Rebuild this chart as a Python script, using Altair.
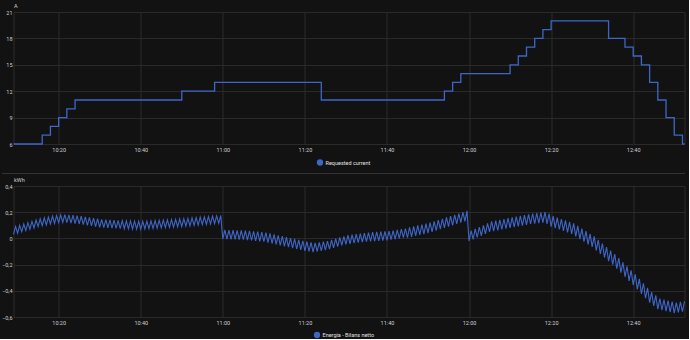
import altair as alt
import pandas as pd

DAY = "2024-05-14"
BG = "#121212"
GRID = "#2a2a2a"
BLUE = "#3e66c9"
TEXT = "#cfcfcf"
FONT = "Roboto"

# ---- x axis ticks ----
tick_times = ["10:20", "10:40", "11:00", "11:20", "11:40", "12:00", "12:20", "12:40"]
x_start = "10:09:00"
x_end = "12:52:30"

# ---- top panel: Requested current (A), step changes ----
current_series = "Requested current"
current_times = ["10:09", "10:16", "10:18", "10:20", "10:22", "10:24", "10:50", "10:58",
                 "11:24", "11:54", "11:56", "11:58", "12:10", "12:12", "12:14", "12:16",
                 "12:18", "12:20", "12:34", "12:38", "12:40", "12:42", "12:44", "12:46",
                 "12:48", "12:50", "12:52", "12:52:30"]
current_values = [6, 7, 8, 9, 10, 11, 12, 13,
                  11, 12, 13, 14, 15, 16, 17, 18,
                  19, 20, 18, 17, 16, 15, 13, 11,
                  9, 7, 6, 6]
current_ticks = [6, 9, 12, 15, 18, 21]

# ---- bottom panel: Energia - Bilans netto (kWh) ----
energy_series = "Energia - Bilans netto"
energy_first_minute = "10:09"
# low reading at each whole minute (10:09 ... 12:52)
energy_lo = [
    0.030, 0.040, 0.050, 0.060, 0.070, 0.080, 0.090, 0.097, 0.103, 0.110,
    0.115, 0.120, 0.122, 0.120, 0.117, 0.113, 0.110, 0.105, 0.100, 0.095,
    0.090, 0.085, 0.083, 0.081, 0.079, 0.077, 0.075, 0.074, 0.073, 0.072,
    0.071, 0.070, 0.072, 0.074, 0.076, 0.078, 0.080, 0.082, 0.084, 0.086,
    0.088, 0.090, 0.093, 0.096, 0.099, 0.102, 0.105, 0.107, 0.110, 0.112,
    0.115,
    -0.005, -0.006, -0.007, -0.008, -0.009, -0.010, -0.013, -0.016, -0.019, -0.022,
    -0.025, -0.032, -0.039, -0.046, -0.053, -0.060, -0.067, -0.074, -0.081, -0.088,
    -0.095, -0.100, -0.105, -0.100, -0.095, -0.090, -0.081, -0.072, -0.063, -0.054,
    -0.045, -0.041, -0.037, -0.033, -0.029, -0.025, -0.023, -0.021, -0.019, -0.017,
    -0.015, -0.010, -0.005, 0.000, 0.005, 0.005, 0.012, 0.019, 0.026, 0.033,
    0.040, 0.050, 0.060, 0.070, 0.080, 0.090, 0.100, 0.110, 0.120, 0.130,
    -0.020, -0.007, 0.007, 0.020, 0.035, 0.050, 0.056, 0.062, 0.068, 0.074,
    0.080, 0.086, 0.092, 0.098, 0.104, 0.110, 0.113, 0.117, 0.120, 0.110,
    0.090, 0.079, 0.068, 0.057, 0.046, 0.035, 0.015, -0.005, -0.025, -0.045,
    -0.065, -0.092, -0.119, -0.146, -0.173, -0.200, -0.231, -0.262, -0.293, -0.324,
    -0.355, -0.389, -0.423, -0.457, -0.490, -0.515, -0.540, -0.548, -0.555, -0.562,
    -0.570, -0.565, -0.560,
]
# high reading half a minute later
energy_hi = [
    0.090, 0.100, 0.110, 0.120, 0.130, 0.140, 0.150, 0.157, 0.163, 0.170,
    0.175, 0.180, 0.182, 0.180, 0.177, 0.173, 0.170, 0.165, 0.160, 0.155,
    0.150, 0.145, 0.143, 0.141, 0.139, 0.137, 0.135, 0.134, 0.133, 0.132,
    0.131, 0.130, 0.132, 0.134, 0.136, 0.138, 0.140, 0.142, 0.144, 0.146,
    0.148, 0.150, 0.153, 0.156, 0.159, 0.162, 0.165, 0.167, 0.170, 0.172,
    0.175,
    0.065, 0.064, 0.063, 0.062, 0.061, 0.060, 0.057, 0.054, 0.051, 0.048,
    0.045, 0.038, 0.031, 0.024, 0.017, 0.010, 0.003, -0.004, -0.011, -0.018,
    -0.025, -0.030, -0.035, -0.030, -0.025, -0.020, -0.011, -0.002, 0.007, 0.016,
    0.025, 0.029, 0.033, 0.037, 0.041, 0.045, 0.047, 0.049, 0.051, 0.053,
    0.055, 0.060, 0.065, 0.070, 0.075, 0.085, 0.092, 0.099, 0.106, 0.113,
    0.120, 0.130, 0.140, 0.150, 0.160, 0.170, 0.180, 0.190, 0.200, 0.210,
    0.060, 0.073, 0.087, 0.100, 0.115, 0.130, 0.136, 0.142, 0.148, 0.154,
    0.160, 0.166, 0.172, 0.178, 0.184, 0.190, 0.193, 0.197, 0.200, 0.190,
    0.170, 0.159, 0.148, 0.137, 0.126, 0.115, 0.095, 0.075, 0.055, 0.035,
    0.015, -0.012, -0.039, -0.066, -0.093, -0.120, -0.151, -0.182, -0.213, -0.244,
    -0.275, -0.309, -0.343, -0.377, -0.410, -0.435, -0.460, -0.468, -0.475, -0.482,
    -0.490, -0.485, -0.480,
]
energy_ticks = [-0.6, -0.4, -0.2, 0, 0.2, 0.4]


def ts(hm):
    return pd.Timestamp(f"{DAY} {hm}")


def dt(hm):
    t = ts(hm)
    return alt.DateTime(year=t.year, month=t.month, date=t.day,
                        hours=t.hour, minutes=t.minute, seconds=t.second)


# tables
cur_df = pd.DataFrame({
    "time": [ts(t).strftime("%Y-%m-%dT%H:%M:%S") for t in current_times],
    "value": current_values,
    "series": current_series,
})

minutes = pd.date_range(ts(energy_first_minute), periods=len(energy_lo), freq="1min")
rows = []
for m, lo, hi in zip(minutes, energy_lo, energy_hi):
    rows.append({"time": m.strftime("%Y-%m-%dT%H:%M:%S"), "value": lo})
    rows.append({"time": (m + pd.Timedelta(seconds=30)).strftime("%Y-%m-%dT%H:%M:%S"), "value": hi})
en_df = pd.DataFrame(rows)
en_df["series"] = energy_series

PLOT_W = 671

x_scale = alt.Scale(domain=[dt(x_start), dt(x_end)])
x_axis = alt.Axis(values=[dt(t) for t in tick_times], format="%H:%M", title=None,
                  grid=True, gridColor=GRID, domain=False, ticks=False,
                  labelColor=TEXT, labelFontSize=5.5, labelPadding=3, labelFont=FONT)


def y_axis(ticks, title, title_y):
    return alt.Axis(values=ticks, title=title, titleAngle=0, titleX=0, titleY=title_y,
                    titleAlign="left", titleBaseline="bottom", titleFontSize=5.5,
                    titleFontWeight="normal", titleColor=TEXT, titleFont=FONT,
                    labelColor=TEXT, labelFontSize=5.5, labelPadding=1.5, labelFont=FONT,
                    ticks=False, domain=False, grid=True, gridColor=GRID,
                    labelExpr="replace(format(datum.value, '~g'), '.', ',')")


def legend(lx, ly):
    return alt.Legend(orient="none", legendX=lx, legendY=ly, title=None,
                      symbolType="circle", symbolFillColor=BLUE, symbolStrokeWidth=0,
                      symbolSize=40, labelFontSize=5.5, labelColor="#e0e0e0",
                      labelFont=FONT, labelOffset=2, padding=0)


top = alt.Chart(cur_df).mark_line(interpolate="step-after", strokeWidth=1.3).encode(
    x=alt.X("time:T", scale=x_scale, axis=x_axis),
    y=alt.Y("value:Q", scale=alt.Scale(domain=[6, 21]), axis=y_axis(current_ticks, "A", -3.5)),
    color=alt.Color("series:N", scale=alt.Scale(range=[BLUE]), legend=legend(303, 147)),
).properties(width=PLOT_W, height=132)

energy_line = alt.Chart(en_df).mark_line(strokeWidth=1.1).encode(
    x=alt.X("time:T", scale=x_scale, axis=x_axis),
    y=alt.Y("value:Q", scale=alt.Scale(domain=[-0.6, 0.4]), axis=y_axis(energy_ticks, "kWh", -4)),
    color=alt.Color("series:N", scale=alt.Scale(range=[BLUE]), legend=legend(300, 145.5)),
)
separator = alt.Chart(en_df).mark_rule(color="#333333", strokeWidth=1, clip=False).encode(
    x=alt.value(-11), x2=alt.value(PLOT_W), y=alt.value(-12.5)
)
bottom = alt.layer(energy_line, separator).properties(width=PLOT_W, height=131)

chart = alt.vconcat(top, bottom, spacing=42, bounds="flush").resolve_scale(
    color="independent"
).resolve_legend(color="independent").properties(
    background=BG, padding={"left": 0.5, "top": 3, "right": 0, "bottom": 0}
).configure_view(stroke=GRID)

chart.save("out.html", embed_options={"renderer": "svg", "actions": False})
